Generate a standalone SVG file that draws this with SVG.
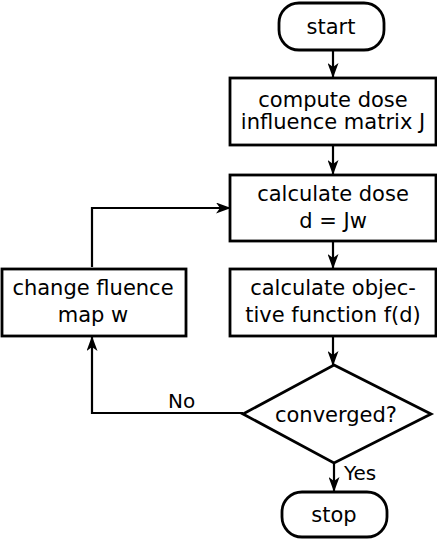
<svg xmlns="http://www.w3.org/2000/svg" width="437" height="540" viewBox="0 0 437 540">
<style>
.n{fill:#fff;stroke:#000;stroke-width:2.8}
.t{font-family:"DejaVu Sans",Verdana,sans-serif;font-size:21px;fill:#000;text-anchor:middle}
.l{font-family:"DejaVu Sans",Verdana,sans-serif;font-size:20px;fill:#000}
.c{fill:none;stroke:#000;stroke-width:2.2}
</style>
<defs>
<marker id="a" viewBox="0 0 15 11" refX="14" refY="5.5" markerWidth="15" markerHeight="11" markerUnits="userSpaceOnUse" orient="auto">
<path d="M0,0 L15,5.5 L0,11 L4,5.5 Z" fill="#000"/>
</marker>
</defs>
<rect width="437" height="540" fill="#fff"/>
<g id="connectors">
<path class="c" d="M333,51 V77" marker-end="url(#a)"/>
<path class="c" d="M333,146 V174" marker-end="url(#a)"/>
<path class="c" d="M333,242 V268" marker-end="url(#a)"/>
<path class="c" d="M333,337 V365" marker-end="url(#a)"/>
<path class="c" d="M334,464 V491" marker-end="url(#a)"/>
<path class="c" d="M243,413 H92 V337" marker-end="url(#a)"/>
<path class="c" d="M92,267 V208 H230" marker-end="url(#a)"/>
<text class="l" x="168" y="408">No</text>
<text class="l" x="344" y="480">Yes</text>
</g>
<g id="start">
<rect class="n" x="279" y="3" width="105" height="47" rx="20"/>
<text class="t" x="331" y="34">start</text>
</g>
<g id="compute">
<rect class="n" x="230" y="78" width="206" height="67"/>
<text class="t" x="333" y="107">compute dose</text>
<text class="t" x="333" y="129">influence matrix J</text>
</g>
<g id="calcdose">
<rect class="n" x="230" y="175" width="206" height="66"/>
<text class="t" x="333" y="201">calculate dose</text>
<text class="t" x="333" y="228">d = Jw</text>
</g>
<g id="objective">
<rect class="n" x="230" y="269" width="206" height="67"/>
<text class="t" x="333" y="295">calculate objec-</text>
<text class="t" x="333" y="322">tive function f(d)</text>
</g>
<g id="change">
<rect class="n" x="2" y="269" width="184" height="67"/>
<text class="t" x="93" y="295">change fluence</text>
<text class="t" x="93" y="322">map w</text>
</g>
<g id="converged">
<polygon class="n" points="334,365 431,414 334,463 243,414"/>
<text class="t" x="336" y="422">converged?</text>
</g>
<g id="stop">
<rect class="n" x="282" y="492" width="105" height="45" rx="20"/>
<text class="t" x="334" y="522">stop</text>
</g>
</svg>
